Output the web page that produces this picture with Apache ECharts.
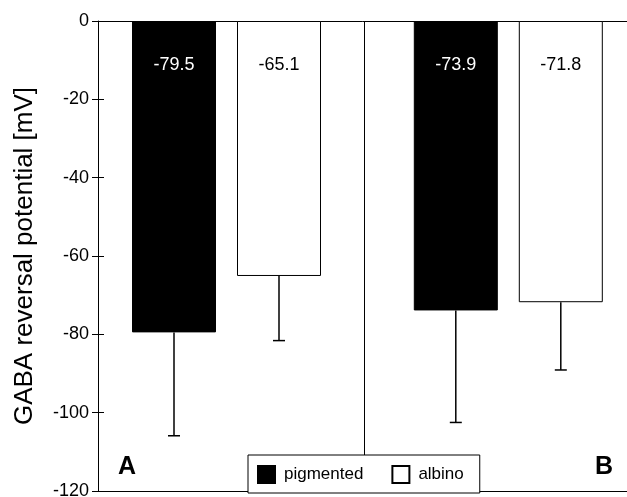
<!DOCTYPE html>
<html>
<head>
<meta charset="utf-8">
<script src="https://cdn.jsdelivr.net/npm/echarts@6/dist/echarts.min.js"></script>
<style>
html,body{margin:0;padding:0;background:#fff;}
#chart{width:627px;height:497px;}
</style>
</head>
<body>
<div id="chart"></div>
<script>
const groups = ['A', 'B'];
const seriesNames = ['pigmented', 'albino'];
const pigmented = [-79.5, -73.9];
const albino = [-65.1, -71.8];
const pigmentedErr = [26.4, 28.6];
const albinoErr = [16.5, 17.3];
const yAxisTitle = 'GABA reversal potential [mV]';
const yMin = -120, yMax = 0, yStep = 20;

const FONT = 'Liberation Sans, Arial, Helvetica, sans-serif';
const BAR_W = 84, BAR_GAP = 21;
const OFF = (BAR_W + BAR_GAP) / 2;

function errRender(offset) {
  return function (params, api) {
    const cat = api.value(0), mean = api.value(1), sd = api.value(2);
    const p0 = api.coord([cat, mean]);
    const p1 = api.coord([cat, mean - sd]);
    const x = p0[0] + offset;
    const st = { stroke: '#000', lineWidth: 1.5 };
    return {
      type: 'group',
      children: [
        { type: 'line', shape: { x1: x, y1: p0[1], x2: x, y2: p1[1] }, style: st },
        { type: 'line', shape: { x1: x - 6, y1: p1[1], x2: x + 6, y2: p1[1] }, style: st }
      ]
    };
  };
}

const chart = echarts.init(document.getElementById('chart'), null, { renderer: 'canvas' });
const barLabel = { show: true, position: 'insideTop', distance: 35, fontSize: 18, fontFamily: FONT,
  formatter: p => p.value.toFixed(1) };

chart.setOption({
  animation: false,
  backgroundColor: '#fff',
  textStyle: { fontFamily: FONT, color: '#000' },
  grid: [
    { left: 85.6, width: 563.6, top: 21, bottom: 6, outerBoundsMode: 'none', containLabel: false },
    { left: 98, width: 532, top: 21, bottom: 6, outerBoundsMode: 'none', containLabel: false }
  ],
  xAxis: [
    { type: 'category', gridIndex: 0, data: groups, show: false },
    { type: 'value', gridIndex: 1, position: 'top', min: 0, max: 2, interval: 1,
      axisLine: { show: true, onZero: false, lineStyle: { color: '#000', width: 1 } },
      axisTick: { show: false }, axisLabel: { show: false }, splitLine: { show: false } },
    { type: 'value', gridIndex: 1, position: 'bottom', min: 0, max: 2, interval: 1,
      axisLine: { show: true, onZero: false, lineStyle: { color: '#000', width: 1 } },
      axisTick: { show: false }, axisLabel: { show: false },
      splitLine: { show: true, lineStyle: { color: '#000', width: 1 } } }
  ],
  yAxis: [
    { type: 'value', gridIndex: 0, min: yMin, max: yMax, show: false },
    { type: 'value', gridIndex: 1, position: 'left', min: yMin, max: yMax, interval: yStep,
      name: yAxisTitle, nameLocation: 'middle', nameGap: 60,
      nameTextStyle: { fontSize: 26, fontFamily: FONT, color: '#000' },
      axisLine: { show: true, onZero: false, lineStyle: { color: '#000', width: 1 } },
      axisTick: { show: true, length: 6, lineStyle: { color: '#000', width: 1 } },
      axisLabel: { fontSize: 18, fontFamily: FONT, color: '#000', margin: 9 },
      splitLine: { show: false } },
    { type: 'value', gridIndex: 1, position: 'left', min: yMin, max: yMax, interval: yStep,
      axisLine: { show: false },
      axisTick: { show: true, inside: true, length: 6, lineStyle: { color: '#000', width: 1 } },
      axisLabel: { show: false }, splitLine: { show: false } }
  ],
  legend: {
    data: seriesNames, left: 248, top: 455, orient: 'horizontal',
    padding: [10, 16, 9, 9], itemGap: 28, itemWidth: 17, itemHeight: 17,
    borderColor: '#000', borderWidth: 1, backgroundColor: '#fff',
    selectedMode: false, icon: 'rect',
    textStyle: { fontSize: 17, fontFamily: FONT, color: '#000', padding: [0, 0, 0, 4] }
  },
  graphic: [
    { type: 'text', left: 118, top: 455, z: 10,
      style: { text: groups[0], fontSize: 25, fontWeight: 'bold', fontFamily: FONT, fill: '#000' } },
    { type: 'text', left: 595, top: 455, z: 10,
      style: { text: groups[1], fontSize: 25, fontWeight: 'bold', fontFamily: FONT, fill: '#000' } }
  ],
  series: [
    { name: seriesNames[0], type: 'bar', xAxisIndex: 0, yAxisIndex: 0, data: pigmented,
      barWidth: BAR_W, barGap: (BAR_GAP / BAR_W * 100) + '%',
      itemStyle: { color: '#000', borderColor: '#000', borderWidth: 1 },
      label: Object.assign({ color: '#fff' }, barLabel) },
    { name: seriesNames[1], type: 'bar', xAxisIndex: 0, yAxisIndex: 0, data: albino,
      barWidth: BAR_W, barGap: (BAR_GAP / BAR_W * 100) + '%',
      itemStyle: { color: '#fff', borderColor: '#000', borderWidth: 1 },
      label: Object.assign({ color: '#000' }, barLabel) },
    { type: 'custom', xAxisIndex: 0, yAxisIndex: 0, renderItem: errRender(-OFF),
      data: pigmented.map((v, i) => [i, v, pigmentedErr[i]]), z: 5 },
    { type: 'custom', xAxisIndex: 0, yAxisIndex: 0, renderItem: errRender(OFF),
      data: albino.map((v, i) => [i, v, albinoErr[i]]), z: 5 }
  ]
});
</script>
</body>
</html>
